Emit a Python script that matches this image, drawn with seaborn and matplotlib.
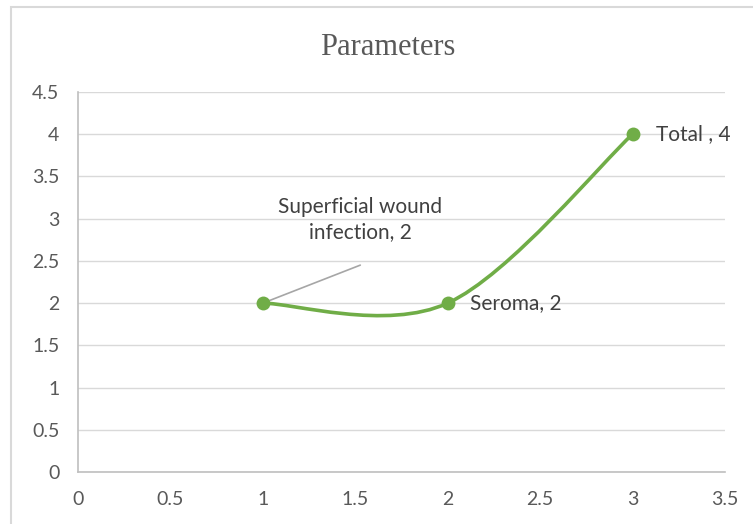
import seaborn as sns
import matplotlib.pyplot as plt
import pandas as pd
from matplotlib.path import Path
from matplotlib.patches import PathPatch, Rectangle

# data
categories = ["Superficial wound\ninfection", "Seroma", "Total "]
x_vals = [1, 2, 3]
y_vals = [2, 2, 4]
x_ticks = [0, 0.5, 1, 1.5, 2, 2.5, 3, 3.5]
y_ticks = [0, 0.5, 1, 1.5, 2, 2.5, 3, 3.5, 4, 4.5]

df = pd.DataFrame({"x": x_vals, "y": y_vals, "label": categories})

sns.set_theme(style="white")
plt.rcParams["font.family"] = ["Lato", "DejaVu Sans"]

green = "#70AD47"
text_gray = "#595959"

fig = plt.figure(figsize=(7.53, 5.24), dpi=100)
ax = fig.add_axes([0.1036, 0.0992, 0.8592, 0.7252])

# smoothed line (Excel-style Catmull-Rom bezier through the points)
pts = list(zip(x_vals, y_vals))
verts = [pts[0]]
codes = [Path.MOVETO]
for i in range(len(pts) - 1):
    p_prev = pts[max(i - 1, 0)]
    p0 = pts[i]
    p1 = pts[i + 1]
    p_next = pts[min(i + 2, len(pts) - 1)]
    c1 = (p0[0] + (p1[0] - p_prev[0]) / 6, p0[1] + (p1[1] - p_prev[1]) / 6)
    c2 = (p1[0] - (p_next[0] - p0[0]) / 6, p1[1] - (p_next[1] - p0[1]) / 6)
    verts += [c1, c2, p1]
    codes += [Path.CURVE4] * 3
ax.add_patch(PathPatch(Path(verts, codes), fill=False, ec=green, lw=2.6,
                       capstyle="round", zorder=3))

sns.scatterplot(data=df, x="x", y="y", ax=ax, color=green, s=100,
                edgecolor=green, linewidth=0, zorder=4, legend=False)

# axes styling
ax.set_xlim(0, 3.5)
ax.set_ylim(0, 4.5)
ax.set_xticks(x_ticks)
ax.set_yticks(y_ticks)
ax.set_xticklabels([f"{t:g}" for t in x_ticks])
ax.set_yticklabels([f"{t:g}" for t in y_ticks])
ax.set_xlabel("")
ax.set_ylabel("")
ax.yaxis.grid(True, color="#D9D9D9", lw=1)
ax.set_axisbelow(True)
for side in ["top", "right"]:
    ax.spines[side].set_visible(False)
for side in ["left", "bottom"]:
    ax.spines[side].set_color("#BFBFBF")
    ax.spines[side].set_linewidth(1.2)
ax.tick_params(axis="both", colors="#BFBFBF", labelcolor=text_gray,
               labelsize=14, length=4.5, width=1.2, direction="out")
ax.tick_params(axis="y", pad=9)
ax.tick_params(axis="x", pad=9)

# data labels
lab_color = "#404040"
lab_size = 15
ax.plot([x_vals[0], 1.527], [y_vals[0], 2.45], color="#A6A6A6", lw=1.2,
        zorder=2)
ax.text(1.527, 2.99, f"{categories[0]}, {y_vals[0]}", ha="center",
        va="center", fontsize=lab_size, color=lab_color, linespacing=1.3)
ax.text(2.12, y_vals[1], f"{categories[1]}, {y_vals[1]}", ha="left",
        va="center", fontsize=lab_size, color=lab_color)
ax.text(3.125, y_vals[2], f"{categories[2]}, {y_vals[2]}", ha="left",
        va="center", fontsize=lab_size, color=lab_color)

ax.set_title("Parameters", family="Liberation Serif", fontsize=22,
             color=text_gray, pad=27, x=0.479)

# chart area border
fig.add_artist(Rectangle((11 / 753, -0.1), 2, 517 / 524 + 0.1,
                         transform=fig.transFigure, fill=False,
                         ec="#D9D9D9", lw=1.5))

fig.savefig("out.png", dpi=100)
